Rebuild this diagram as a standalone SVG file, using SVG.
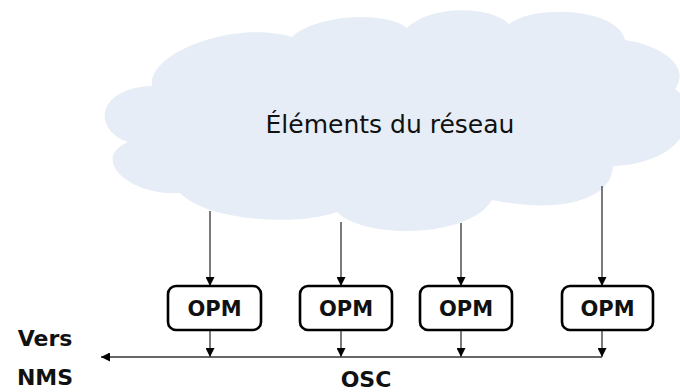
<svg xmlns="http://www.w3.org/2000/svg" width="680" height="392" viewBox="0 0 680 392">
<defs>
<style>
.box{fill:#fff;stroke:#000;stroke-width:2.6}
.lbl{font-family:"DejaVu Sans",sans-serif;font-weight:bold;font-size:21px;fill:#111;text-anchor:middle}
.big{font-family:"DejaVu Sans",sans-serif;font-weight:bold;font-size:22px;fill:#111;text-anchor:middle}
.conn{stroke:#333;stroke-width:1.3;fill:none}
</style>
<marker id="ah" viewBox="0 0 10 10" refX="10" refY="5" markerWidth="9" markerHeight="9" markerUnits="userSpaceOnUse" orient="auto">
<path d="M0,0 L10,5 L0,10 z" fill="#000"/>
</marker>
</defs>
<rect width="680" height="392" fill="#fff"/>
<g id="cloud">
<path d="M152,86 C148,52 235,20 292,37 C315,15 385,10 407,28 C430,5 490,5 509,24 C535,4 618,8 625,40 C660,45 692,66 675,89 C700,105 695,162 613,166 C612,200 560,214 492,200 C470,238 365,240 337,212 C300,226 208,222 180,193 C128,196 90,158 128,142 C92,130 96,88 152,86 Z" fill="#e7edf6"/>
<text x="390" y="133" font-family="DejaVu Sans, sans-serif" font-size="25" fill="#111" text-anchor="middle">Éléments du réseau</text>
</g>
<g id="connectors">
<line class="conn" x1="210" y1="211" x2="210" y2="286" marker-end="url(#ah)"/>
<line class="conn" x1="341" y1="222" x2="341" y2="286" marker-end="url(#ah)"/>
<line class="conn" x1="461" y1="223" x2="461" y2="286" marker-end="url(#ah)"/>
<line class="conn" x1="602" y1="186" x2="602" y2="286" marker-end="url(#ah)"/>
<line class="conn" x1="210" y1="330" x2="210" y2="357" marker-end="url(#ah)"/>
<line class="conn" x1="341" y1="330" x2="341" y2="357" marker-end="url(#ah)"/>
<line class="conn" x1="461" y1="330" x2="461" y2="357" marker-end="url(#ah)"/>
<line class="conn" x1="602" y1="330" x2="602" y2="357" marker-end="url(#ah)"/>
<line class="conn" x1="602" y1="357" x2="101" y2="357" marker-end="url(#ah)"/>
</g>
<g id="opm1"><rect class="box" x="168" y="286" width="93" height="44" rx="8"/><text class="lbl" x="214.5" y="316">OPM</text></g>
<g id="opm2"><rect class="box" x="300" y="286" width="92" height="44" rx="8"/><text class="lbl" x="346" y="316">OPM</text></g>
<g id="opm3"><rect class="box" x="420" y="286" width="92" height="44" rx="8"/><text class="lbl" x="466" y="316">OPM</text></g>
<g id="opm4"><rect class="box" x="562" y="286" width="91" height="44" rx="8"/><text class="lbl" x="607.5" y="316">OPM</text></g>
<g id="nms"><text class="big" x="45" y="346">Vers</text><text class="big" x="45" y="385">NMS</text></g>
<g id="osc"><text class="big" x="366" y="387">OSC</text></g>
</svg>
